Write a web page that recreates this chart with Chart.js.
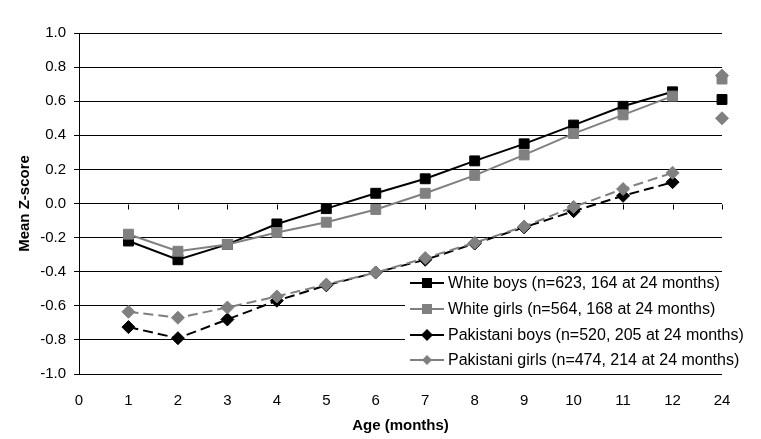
<!DOCTYPE html>
<html>
<head>
<meta charset="utf-8">
<script src="https://cdn.jsdelivr.net/npm/chart.js@4.4.1/dist/chart.umd.min.js"></script>
<style>
  html, body { margin: 0; padding: 0; background: #fff; }
  #wrap { width: 761px; height: 439px; }
</style>
</head>
<body>
<div id="wrap"><canvas id="chart"></canvas></div>
<script>
// age in months (24 sits right after 12, not connected)
const ages = ['0', '1', '2', '3', '4', '5', '6', '7', '8', '9', '10', '11', '12', '24'];

const whiteBoys  = [null, -0.22, -0.33, -0.24, -0.12, -0.03, 0.06, 0.145, 0.25, 0.35, 0.46, 0.57, 0.655, 0.61];
const whiteGirls = [null, -0.18, -0.28, -0.24, -0.17, -0.11, -0.035, 0.06, 0.165, 0.285, 0.41, 0.52, 0.63, 0.73];
const pakBoys    = [null, -0.725, -0.79, -0.68, -0.57, -0.48, -0.405, -0.33, -0.235, -0.14, -0.045, 0.045, 0.125, 0.75];
const pakGirls   = [null, -0.635, -0.67, -0.61, -0.545, -0.475, -0.405, -0.32, -0.23, -0.135, -0.02, 0.085, 0.18, 0.50];

const seriesNames = [
    'White boys (n=623, 164 at 24 months)',
    'White girls (n=564, 168 at 24 months)',
    'Pakistani boys (n=520, 205 at 24 months)',
    'Pakistani girls (n=474, 214 at 24 months)'
];

const BLACK = '#000000';
const GREY = '#808080';
const FONT = '"Liberation Sans", Arial, sans-serif';

// no line between 12 and 24 months
const hideLast = ctx => ctx.p1DataIndex === ages.length - 1 ? 'rgba(0,0,0,0)' : undefined;

function makeSet(label, data, color, style, radius, dash, order, pointColors) {
    return {
        label: label,
        data: data,
        borderColor: color,
        backgroundColor: pointColors || color,
        pointBackgroundColor: pointColors || color,
        pointBorderColor: pointColors || color,
        borderWidth: 2,
        borderDash: dash,
        pointStyle: style,
        pointRadius: radius,
        pointHoverRadius: radius,
        pointBorderWidth: 1,
        tension: 0,
        order: order,
        segment: { borderColor: hideLast }
    };
}

// pakistani boys marker at 24 months is drawn grey in the original
const pakBoysColors = pakBoys.map((v, i) => i === ages.length - 1 ? GREY : BLACK);

// little tick marks on the zero line, like excel
const zeroTicks = {
    id: 'zeroTicks',
    beforeDatasetsDraw(chart) {
        const ctx = chart.ctx;
        const xs = chart.scales.x, ys = chart.scales.y;
        const y0 = Math.round(ys.getPixelForValue(0)) + 0.5;
        ctx.save();
        ctx.strokeStyle = BLACK;
        ctx.lineWidth = 1;
        ctx.beginPath();
        for (let i = 1; i < ages.length; i++) {
            const x = Math.round(xs.getPixelForValue(i)) + 0.5;
            ctx.moveTo(x, y0);
            ctx.lineTo(x, y0 + 5);
        }
        ctx.stroke();
        ctx.restore();
    }
};

function drawMarker(ctx, style, x, y, r, color) {
    ctx.fillStyle = color;
    ctx.beginPath();
    if (style === 'rect') {
        ctx.rect(x - r, y - r, 2 * r, 2 * r);
    } else {
        ctx.moveTo(x, y - r);
        ctx.lineTo(x + r, y);
        ctx.lineTo(x, y + r);
        ctx.lineTo(x - r, y);
        ctx.closePath();
    }
    ctx.fill();
}

// legend sits inside the plot, bottom right, on a white box
const boxLegend = {
    id: 'boxLegend',
    afterDraw(chart) {
        const ctx = chart.ctx;
        const area = chart.chartArea;
        const left = area.right - 317;
        const top = area.bottom - 101;
        ctx.save();
        ctx.fillStyle = '#ffffff';
        ctx.fillRect(left, top, 317, 100.5);

        const rows = [-91, -65, -39, -14];
        const looks = [
            { color: BLACK, style: 'rect', r: 5 },
            { color: GREY, style: 'rect', r: 5 },
            { color: BLACK, style: 'diamond', r: 6 },
            { color: GREY, style: 'diamond', r: 5 }
        ];
        ctx.font = '16px ' + FONT;
        ctx.textBaseline = 'middle';
        ctx.textAlign = 'left';
        seriesNames.forEach((name, i) => {
            const y = area.bottom + rows[i];
            ctx.strokeStyle = looks[i].color;
            ctx.lineWidth = 2;
            ctx.beginPath();
            ctx.moveTo(left + 5, y);
            ctx.lineTo(left + 39, y);
            ctx.stroke();
            drawMarker(ctx, looks[i].style, left + 22, y, looks[i].r, looks[i].color);
            ctx.fillStyle = BLACK;
            ctx.fillText(name, left + 43, y + 1);
        });
        ctx.restore();
    }
};

const config = {
    type: 'line',
    data: {
        labels: ages,
        datasets: [
            makeSet(seriesNames[0], whiteBoys, BLACK, 'rect', 7, [], 4),
            makeSet(seriesNames[1], whiteGirls, GREY, 'rect', 7, [], 3),
            makeSet(seriesNames[2], pakBoys, BLACK, 'rectRot', 6.5, [10, 5], 2, pakBoysColors),
            makeSet(seriesNames[3], pakGirls, GREY, 'rectRot', 6.5, [10, 5], 1)
        ]
    },
    options: {
        responsive: true,
        maintainAspectRatio: false,
        animation: false,
        layout: { padding: { top: 33, right: 39, bottom: 0, left: 0 } },
        plugins: {
            legend: { display: false },
            tooltip: { enabled: false }
        },
        scales: {
            x: {
                offset: false,
                grid: { display: false },
                border: { display: false },
                ticks: { color: BLACK, font: { family: FONT, size: 15 }, padding: 10, maxRotation: 0, autoSkip: false },
                title: { display: true, text: 'Age (months)', color: BLACK, font: { family: FONT, size: 15, weight: 'bold' }, padding: { top: 4, bottom: 4 } },
                afterFit: scale => { scale.height = 65; }
            },
            y: {
                min: -1,
                max: 1,
                ticks: {
                    stepSize: 0.2,
                    color: BLACK,
                    font: { family: FONT, size: 15 },
                    padding: 8,
                    callback: v => Number(v).toFixed(1)
                },
                grid: { color: BLACK, lineWidth: 1, tickLength: 5, drawTicks: true },
                border: { display: true, color: BLACK, width: 1 },
                title: { display: true, text: 'Mean Z-score', color: BLACK, font: { family: FONT, size: 15, weight: 'bold' }, padding: { top: 16, bottom: 4 } },
                afterFit: scale => { scale.width = 79; }
            }
        }
    },
    plugins: [zeroTicks, boxLegend]
};

new Chart(document.getElementById('chart'), config);
</script>
</body>
</html>
